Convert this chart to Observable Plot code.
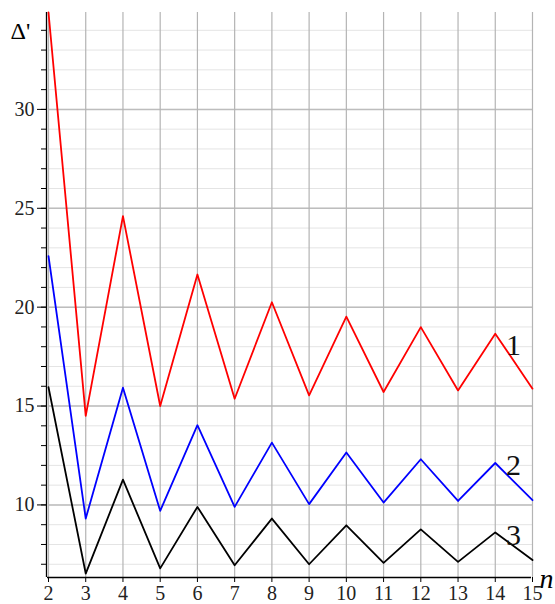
<!DOCTYPE html>
<html>
<head>
<meta charset="utf-8">
<script src="https://cdn.jsdelivr.net/npm/d3@7"></script>
<script src="https://cdn.jsdelivr.net/npm/@observablehq/plot@0.6"></script>
<style>
  html, body { margin: 0; padding: 0; background: #fff; }
  #chart svg { display: block; }
  #chart svg text { font-family: "Liberation Serif", "DejaVu Serif", serif !important; }
</style>
</head>
<body>
<div id="chart"></div>
<script>
const nValues = [2, 3, 4, 5, 6, 7, 8, 9, 10, 11, 12, 13, 14, 15];
const series1 = [34.9, 14.5, 24.6, 15.0, 21.65, 15.37, 20.25, 15.54, 19.52, 15.71, 18.99, 15.79, 18.66, 15.88];
const series2 = [22.58, 9.31, 15.93, 9.7, 14.03, 9.9, 13.15, 10.04, 12.65, 10.12, 12.31, 10.2, 12.12, 10.24];
const series3 = [15.95, 6.53, 11.28, 6.79, 9.9, 6.95, 9.31, 7.0, 8.97, 7.07, 8.76, 7.12, 8.61, 7.21];
const seriesNames = ["1", "2", "3"];
const seriesColors = ["#ff0000", "#0000ff", "#000000"];
const yMajorTicks = [10, 15, 20, 25, 30];
const yMinorTicks = d3.range(7, 35);
const xTicks = nValues;
const yDomain = [6.33, 34.9];

const allSeries = [series1, series2, series3];
const data = allSeries.flatMap((s, i) => s.map((v, j) => ({n: nValues[j], v, s: seriesNames[i]})));
const labelData = [
  {n: 15, v: 18.05, s: "1"},
  {n: 15, v: 12.0, s: "2"},
  {n: 15, v: 8.45, s: "3"}
];
const serif = "Liberation Serif, DejaVu Serif, serif";

const chart = Plot.plot({
  width: 555,
  height: 604,
  marginLeft: 48,
  marginRight: 23,
  marginTop: 12,
  marginBottom: 27,
  x: {domain: [2, 15], label: null},
  y: {domain: yDomain, label: null},
  style: {fontFamily: serif, background: "#fff"},
  marks: [
    Plot.gridY(yMinorTicks, {stroke: "#e4e4e4", strokeOpacity: 1, strokeWidth: 1}),
    Plot.gridY(yMajorTicks, {stroke: "#bdbdbd", strokeOpacity: 1, strokeWidth: 1.5}),
    Plot.gridX(xTicks, {stroke: "#b4b4b4", strokeOpacity: 1, strokeWidth: 1.2}),
    Plot.axisY(yMinorTicks, {tickSize: 5, text: null, label: null, stroke: "#000", strokeWidth: 1, dx: -2}),
    Plot.axisY(yMajorTicks, {tickSize: 9, tickPadding: 3, label: null, fontSize: 20, fontFamily: serif, fill: "#222", stroke: "#000", strokeWidth: 1, dx: -2}),
    Plot.axisX(xTicks, {tickSize: 5, tickPadding: 3, label: null, fontSize: 20, fontFamily: serif, fill: "#222", stroke: "#000", strokeWidth: 1}),
    Plot.ruleX([2], {stroke: "#000", strokeWidth: 1.3, dx: -2}),
    Plot.ruleY([yDomain[0]], {stroke: "#000", strokeWidth: 1.5, x1: 2, x2: 15, dx: -1}),
    Plot.line(data, {x: "n", y: "v", z: "s", stroke: "s", strokeWidth: 1.8}),
    Plot.text(labelData, {x: "n", y: "v", text: "s", dx: -19, fontSize: 30, fontFamily: serif, fill: "#111"}),
    Plot.text(["Δ'"], {frameAnchor: "top-left", dx: -38, dy: 26, textAnchor: "start", lineAnchor: "bottom", fontSize: 24, fontFamily: serif, fill: "#000"}),
    Plot.text(["n"], {frameAnchor: "bottom-right", dx: 7, dy: 10, textAnchor: "start", lineAnchor: "bottom", fontSize: 28, fontStyle: "italic", fontFamily: serif, fill: "#000"})
  ],
  color: {domain: seriesNames, range: seriesColors}
});
document.getElementById("chart").append(chart);
</script>
</body>
</html>
